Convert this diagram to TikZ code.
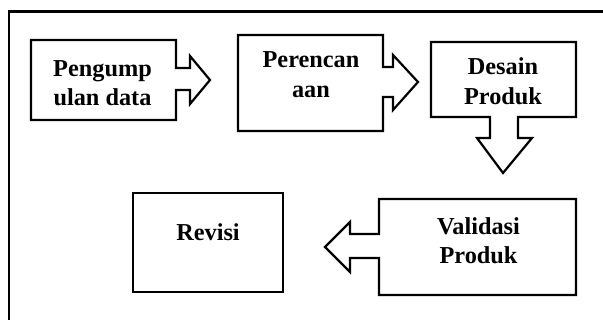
\documentclass[tikz,border=0pt]{standalone}
\usepackage{fontspec}
\setmainfont{Liberation Serif}

\tikzset{
  blok/.style={minimum width=145pt, outer sep=0pt, inner sep=0pt},
  garis/.style={line width=2.2pt, line join=miter},
  teks/.style={align=center, font=\fontsize{24.3}{29.5}\selectfont\bfseries}
}

\begin{document}
\begin{tikzpicture}[x=1pt, y=-1pt]

        \useasboundingbox (0,0) rectangle (603,320);
        \clip (0,0) rectangle (603,320);

        % frame
        \draw[line width=2.8pt] (9,11.3) rectangle (615,335);

        % boxes
        \node[blok, minimum height=80pt] (pengumpulan) at (103.5,80) {};
        \node[blok, minimum height=96pt] (perencanaan) at (310.5,83) {};
        \node[blok, minimum height=75pt] (desain) at (503.5,79.5) {};
        \node[blok, minimum width=197pt, minimum height=96pt] (validasi) at (477.5,247) {};
        \node[blok, minimum width=150pt, minimum height=99pt] (revisi) at (208,242.5) {};

        \node[teks] (pengumpulan-txt) at (102.5,83) {Pengump\\ulan data};
        \node[teks] (perencanaan-txt) at (311,74.5) {Perencan\\aan};
        \node[teks] (desain-txt) at (503,81) {Desain\\Produk};
        \node[teks] (validasi-txt) at (478.5,240.5) {Validasi\\Produk};
        \node[teks] (revisi-txt) at (208,232) {Revisi};

        % #######################################

        \draw[garis] (pengumpulan.north west) -- (pengumpulan.north east)
        -- ++(0,28) -- ++(14,0) -- ++(0,-12) -- ++(20,24) -- ++(-20,24)
        -- ++(0,-14) -- ++(-14,0) -- (pengumpulan.south east)
        -- (pengumpulan.south west) -- cycle;

        \draw[garis] (perencanaan.north west) -- (perencanaan.north east)
        -- ++(0,32) -- ++(10,0) -- ++(0,-12) -- ++(25,27) -- ++(-25,28)
        -- ++(0,-13) -- ++(-10,0) -- (perencanaan.south east)
        -- (perencanaan.south west) -- cycle;

        \draw[garis] (desain.north west) -- (desain.north east)
        -- (desain.south east) -- ++(-58,0) -- ++(0,21) -- ++(14,0)
        -- ++(-29,35) -- ++(-26,-35) -- ++(13,0) -- ++(0,-21)
        -- (desain.south west) -- cycle;

        \draw[garis] (validasi.north east) -- (validasi.north west)
        -- ++(0,35) -- ++(-29,0) -- ++(0,-12) -- ++(-25,25) -- ++(25,25)
        -- ++(0,-14) -- ++(29,0) -- (validasi.south west)
        -- (validasi.south east) -- cycle;

        \draw[garis] (revisi.north west) rectangle (revisi.south east);

    \end{tikzpicture}
\end{document}
